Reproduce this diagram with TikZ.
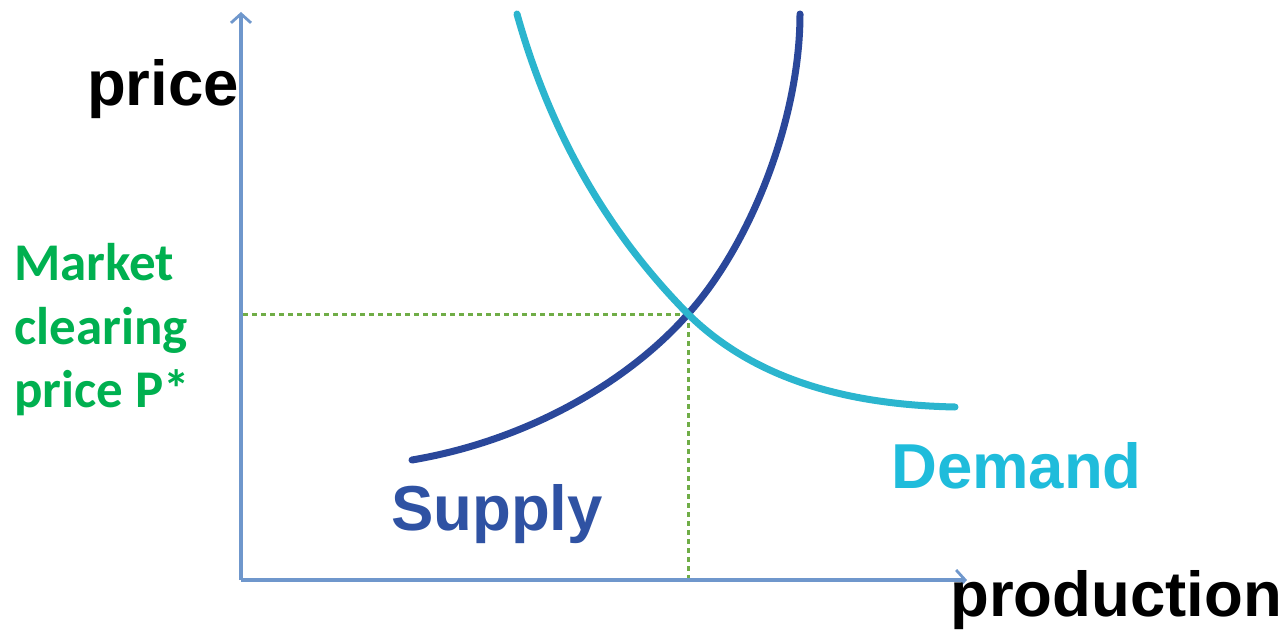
\documentclass[tikz,border=0pt]{standalone}
\usepackage{fontspec}
\setmainfont{Liberation Sans}
\newfontfamily\calib{Carlito}
\usetikzlibrary{arrows.meta}
\definecolor{axisblue}{HTML}{6F97CC}
\definecolor{supplyblue}{HTML}{2A479A}
\definecolor{supplytext}{HTML}{2F52A3}
\definecolor{demandcyan}{HTML}{2BB5CE}
\definecolor{demandtext}{HTML}{1FBCDB}
\definecolor{dotgreen}{HTML}{70AD47}
\definecolor{labelgreen}{HTML}{00B050}
\tikzset{
  axisline/.style={draw=axisblue, line width=3.2pt, -{Straight Barb[length=9pt,width=20pt,line width=2.8pt]}},
  curvesupply/.style={draw=supplyblue, line width=7pt, line cap=round},
  curvedemand/.style={draw=demandcyan, line width=7pt, line cap=round},
  guide/.style={draw=dotgreen, line width=3pt, dash pattern=on 5pt off 4pt},
  axlabel/.style={inner sep=0pt, anchor=base west, font=\bfseries\fontsize{63.5}{63.5}\selectfont},
  pstar/.style={inner sep=0pt, anchor=base west, text=labelgreen, font=\calib\bfseries\fontsize{53}{53}\selectfont},
}
\begin{document}
\begin{tikzpicture}[x=1pt,y=-1pt]
\useasboundingbox (0,0) rectangle (1284,636);
% axes
\coordinate (origin) at (241,580);
\coordinate (ytip) at (241,12);
\coordinate (xtip) at (967,580);
\draw[axisline] (origin) -- (ytip);
\draw[axisline] (origin) -- (xtip);
% equilibrium
\coordinate (eq) at (688,314);
\coordinate (eqy) at (243,314);
\coordinate (eqx) at (688,578);
\draw[guide] (eqy) -- (eq);
\draw[guide] (eq) -- (eqx);
% supply curve
\coordinate (s0) at (412,460);
\coordinate (s1) at (800,14);
\draw[curvesupply] (s0) .. controls (530,440) and (630,380) .. (eq)
   .. controls (750,245) and (800,120) .. (s1);
% demand curve
\coordinate (d0) at (517,14);
\coordinate (d1) at (955,407);
\draw[curvedemand] (d0) .. controls (555,150) and (620,245) .. (eq)
   .. controls (760,385) and (860,405) .. (d1);
% labels
\node[axlabel] (price) at (87,106) {price};
\node[axlabel] (production) at (950,616) {production};
\node[axlabel, text=supplytext] (supply) at (391,530) {Supply};
\node[axlabel, text=demandtext] (demand) at (891,488) {Demand};
\node[pstar] (m1) at (14,280) {Market};
\node[pstar] (m2) at (14,344) {clearing};
\node[pstar] (m3) at (14,407) {price P*};
\end{tikzpicture}
\end{document}
